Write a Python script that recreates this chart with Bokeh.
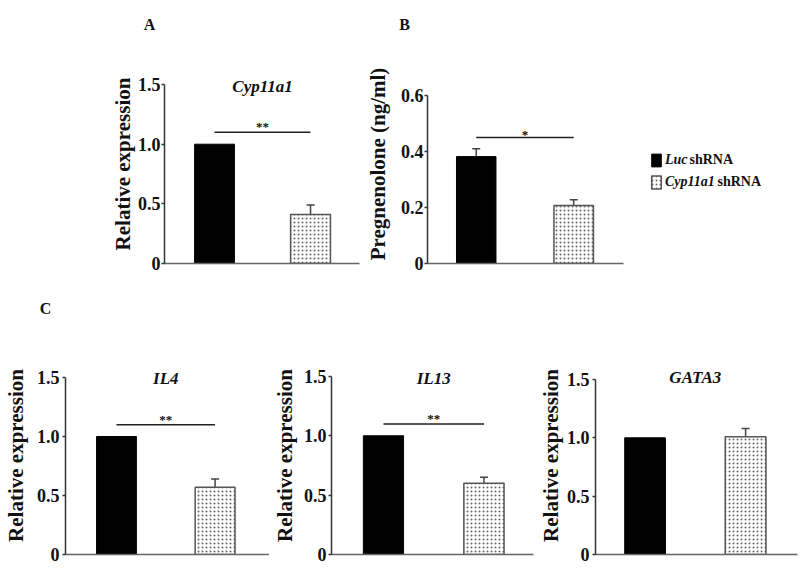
from bokeh.plotting import figure
from bokeh.models import (Range1d, FixedTicker, ColumnDataSource, Whisker, TeeHead,
                          Label, Legend, LegendItem)
from bokeh.layouts import row, column
from bokeh.embed import file_html
from bokeh.resources import INLINE
from bokeh.core.properties import value

# ---------------- data ----------------
groups = ["Luc shRNA", "Cyp11a1 shRNA"]
group_x = [1, 2]

cyp_vals = [1.00, 0.41]
cyp_err = [0.0, 0.08]
preg_vals = [0.382, 0.207]
preg_err = [0.028, 0.021]
il4_vals = [1.00, 0.57]
il4_err = [0.0, 0.07]
il13_vals = [1.00, 0.60]
il13_err = [0.0, 0.05]
gata3_vals = [1.00, 1.01]
gata3_err = [0.0, 0.07]

rel_ticks = [0, 0.5, 1.0, 1.5]
rel_tick_labels = ["0", "0.5", "1.0", "1.5"]
preg_ticks = [0, 0.2, 0.4, 0.6]
preg_tick_labels = ["0", "0.2", "0.4", "0.6"]

# significance marks: (label, y level)
cyp_sig = ("**", 1.10)
preg_sig = ("*", 0.45)
il4_sig = ("**", 1.10)
il13_sig = ("**", 1.10)

SERIF = "Liberation Serif"
AX = "#333333"


def strip(width, height, letters):
    """Thin text-only strip holding the panel letters."""
    s = figure(width=width, height=height, output_backend="svg", toolbar_location=None,
               x_range=Range1d(0, 1), y_range=Range1d(0, 1),
               x_axis_location=None, y_axis_location=None,
               min_border_left=0, min_border_right=0, min_border_top=0,
               min_border_bottom=0)
    s.grid.visible = False
    s.outline_line_color = None
    for t, sx, sy in letters:
        s.add_layout(Label(x=sx, y=sy, x_units="screen", y_units="screen", text=t,
                           text_font=SERIF, text_font_style="bold", text_font_size="16px",
                           text_color="#111111", text_align="center",
                           text_baseline="middle"))
    return s


def panel(width, height, bl, br, bt, bb, xr, yr, ticks, tick_labels, ylabel,
          s1, s2, vals, errs, bw, title, title_y, sig=None, sig_off=-6, xbounds=None):
    p = figure(width=width, height=height, output_backend="svg", toolbar_location=None,
               x_range=Range1d(*xr), y_range=Range1d(*yr),
               min_border_left=bl, min_border_right=br, min_border_top=bt,
               min_border_bottom=bb)
    p.grid.visible = False
    p.outline_line_color = None
    p.background_fill_color = "white"
    p.border_fill_color = "white"

    xa = p.xaxis[0]
    xa.ticker = FixedTicker(ticks=[])
    if xbounds is not None:
        xa.bounds = xbounds
    xa.axis_line_color = "#666666"
    xa.axis_line_width = 1.5
    xa.major_tick_line_color = None
    xa.minor_tick_line_color = None
    xa.major_label_text_font_size = "0px"
    xa.major_label_standoff = 0

    ya = p.yaxis[0]
    ya.ticker = FixedTicker(ticks=ticks)
    ya.bounds = (ticks[0], ticks[-1])
    ya.major_label_overrides = {t: l for t, l in zip(ticks, tick_labels)}
    ya.axis_line_color = AX
    ya.axis_line_width = 1.5
    ya.major_tick_line_color = AX
    ya.major_tick_line_width = 1.5
    ya.major_tick_out = 3
    ya.major_tick_in = 0
    ya.minor_tick_line_color = None
    ya.major_label_text_font = SERIF
    ya.major_label_text_font_style = "bold"
    ya.major_label_text_font_size = "18px"
    ya.major_label_text_color = "#111111"
    ya.major_label_standoff = s1
    ya.axis_label = ylabel
    ya.axis_label_text_font = SERIF
    ya.axis_label_text_font_style = "bold"
    ya.axis_label_text_font_size = "21px"
    ya.axis_label_text_color = "#111111"
    ya.axis_label_standoff = s2

    r1 = p.vbar(x=[group_x[0]], top=[vals[0]], width=bw, fill_color="black",
                line_color="black", line_width=1)
    r2 = p.vbar(x=[group_x[1]], top=[vals[1]], width=bw, fill_color="white",
                line_color="#555555", line_width=1.5, hatch_pattern="dot",
                hatch_scale=4, hatch_color="#666666", hatch_weight=0.5)

    bx = [x for x, e in zip(group_x, errs) if e > 0]
    lo = [v for v, e in zip(vals, errs) if e > 0]
    up = [v + e for v, e in zip(vals, errs) if e > 0]
    if bx:
        src = ColumnDataSource(dict(base=bx, lower=lo, upper=up))
        w = Whisker(source=src, base="base", lower="lower", upper="upper",
                    upper_head=TeeHead(size=8, line_color="#444444", line_width=1.5),
                    lower_head=None, line_color="#444444", line_width=1.5)
        p.add_layout(w)

    if title:
        p.text(x=[1.5], y=[title_y], text=[title], text_font=value(SERIF),
               text_font_style="bold italic", text_font_size="17px", text_color="#111111",
               text_align="center", text_baseline="middle")

    if sig is not None:
        p.segment(x0=[group_x[0]], y0=[sig[1]], x1=[group_x[1]], y1=[sig[1]],
                  line_color="#222222", line_width=1.5)
        p.text(x=[1.5], y=[sig[1]], y_offset=sig_off, text=[sig[0]], text_font=value(SERIF),
               text_font_style="bold", text_font_size="13px", text_color="#111111",
               text_align="center", text_baseline="alphabetic")
    return p, r1, r2


# ---------------- letters strip (top) ----------------
top_strip = strip(800, 40, [("A", 149, 16), ("B", 404, 16)])

# ---------------- top row ----------------
pA, _, _ = panel(362, 250, 164, 3, 24, 27, (0.479, 2.51), (0, 1.668), rel_ticks,
                 rel_tick_labels, "Relative expression", 1, 0, cyp_vals, cyp_err, 0.415,
                 "Cyp11a1", 1.48, cyp_sig, -6)

pB, rb1, rb2 = panel(438, 250, 63, 0, 24, 27, (0.5, 4.327), (0, 0.711), preg_ticks,
                     preg_tick_labels, "Pregnenolone (ng/ml)", 1, 8, preg_vals, preg_err,
                     0.405, "", 0.5, preg_sig, -3, xbounds=(0.5, 2.51))

legend = Legend(items=[LegendItem(label="Luc", renderers=[rb1]),
                       LegendItem(label="Cyp11a1", renderers=[rb2])],
                location=(223, 73), border_line_color=None, background_fill_alpha=0,
                padding=0, margin=0, spacing=6, glyph_width=12, glyph_height=16,
                label_height=16, label_standoff=3, label_text_font=SERIF,
                label_text_font_style="bold italic", label_text_font_size="14px",
                label_text_color="#111111")
pB.add_layout(legend)
for lx, ly in [(262, 104), (290, 82)]:
    pB.add_layout(Label(x=lx, y=ly, x_units="screen", y_units="screen", text="shRNA",
                        text_font=SERIF, text_font_style="bold", text_font_size="14px",
                        text_color="#111111", text_align="left", text_baseline="middle"))

# ---------------- letters strip (middle) ----------------
mid_strip = strip(800, 35, [("C", 45, 17)])

# ---------------- bottom row ----------------
pIL4, _, _ = panel(269, 243, 59, 0, 31, 14, (0.483, 2.552), (0, 1.678), rel_ticks,
                   rel_tick_labels, "Relative expression", 3, 6, il4_vals, il4_err, 0.404,
                   "IL4", 1.49, il4_sig, -5)

pIL13, _, _ = panel(266, 243, 56, 2, 31, 14, (0.483, 2.493), (0, 1.668), rel_ticks,
                    rel_tick_labels, "Relative expression", 2, 4, il13_vals, il13_err, 0.40,
                    "IL13", 1.48, il13_sig, -5)

pG, _, _ = panel(265, 243, 54, 0, 31, 14, (0.507, 2.546), (0, 1.697), rel_ticks,
                 rel_tick_labels, "Relative expression", 3, 1, gata3_vals, gata3_err, 0.405,
                 "GATA3", 1.52, None, xbounds=(0.507, 2.517))

layout = column(top_strip, row(pA, pB), mid_strip, row(pIL4, pIL13, pG))
open("out.html", "w").write(file_html(layout, INLINE))
